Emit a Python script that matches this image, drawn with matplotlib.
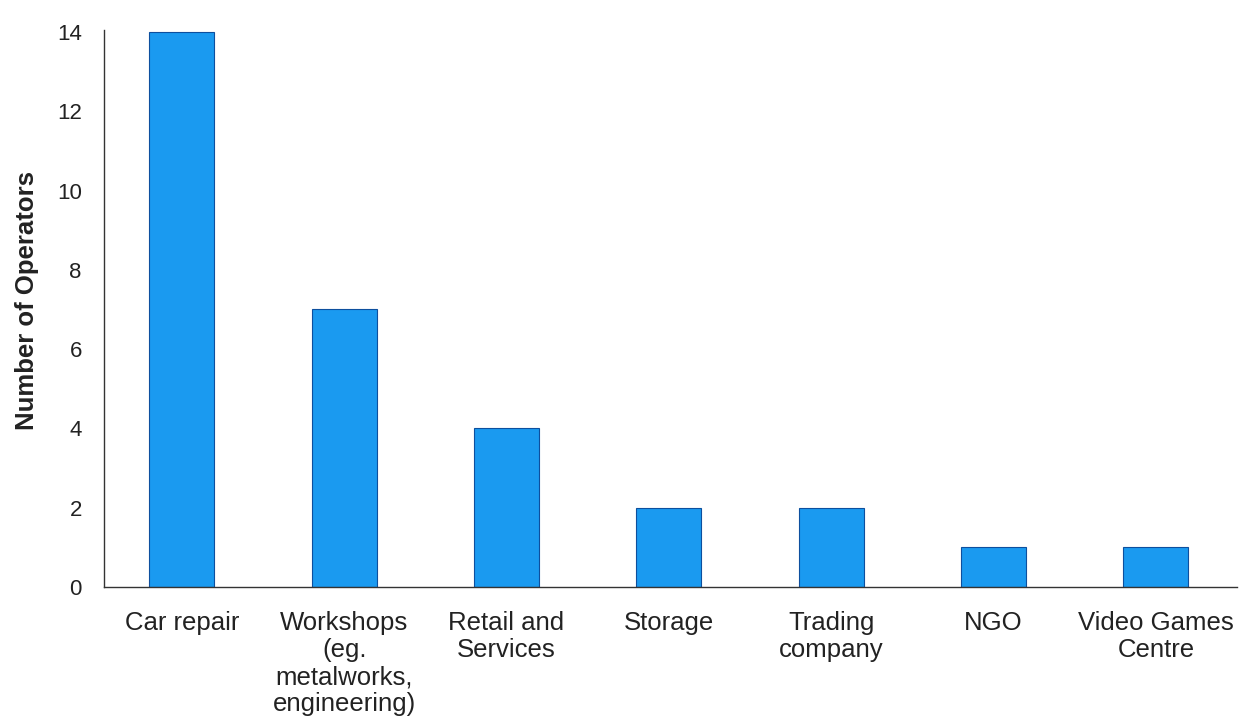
import matplotlib
matplotlib.use("Agg")
import matplotlib.pyplot as plt

plt.rcParams['font.family'] = ['Liberation Sans', 'DejaVu Sans']

categories = ['Car repair', 'Workshops\n(eg.\nmetalworks,\nengineering)', 'Retail and\nServices',
              'Storage', 'Trading\ncompany', 'NGO', 'Video Games\nCentre']
operators = [14, 7, 4, 2, 2, 1, 1]
y_ticks = [0, 2, 4, 6, 8, 10, 12, 14]

fig = plt.figure(figsize=(12.41, 7.24), dpi=100)
ax = fig.add_axes([104 / 1241, 1 - 587 / 724, (1237 - 104) / 1241, (587 - 30) / 724])

x = range(len(categories))
ax.bar(x, operators, width=0.4, color='#1a9af0', edgecolor='#0d4f9e', linewidth=0.8)

ax.set_xlim(-0.48, 6.5)
ax.set_ylim(0, 14.05)
ax.set_yticks(y_ticks)
ax.set_xticks(list(x))
ax.set_xticklabels(categories, fontsize=18.5, color='#222222', linespacing=1.17)
ax.tick_params(axis='y', labelsize=16, colors='#222222', length=0, pad=16)
ax.tick_params(axis='x', length=0, pad=17)

ax.set_ylabel('Number of Operators', fontsize=18.5, fontweight='bold', color='#222222')
ax.yaxis.set_label_coords(-0.057, 0.515)

for side in ('top', 'right'):
    ax.spines[side].set_visible(False)
for side in ('left', 'bottom'):
    ax.spines[side].set_color('#333333')
    ax.spines[side].set_linewidth(1.0)

fig.savefig('out.png', dpi=100)
